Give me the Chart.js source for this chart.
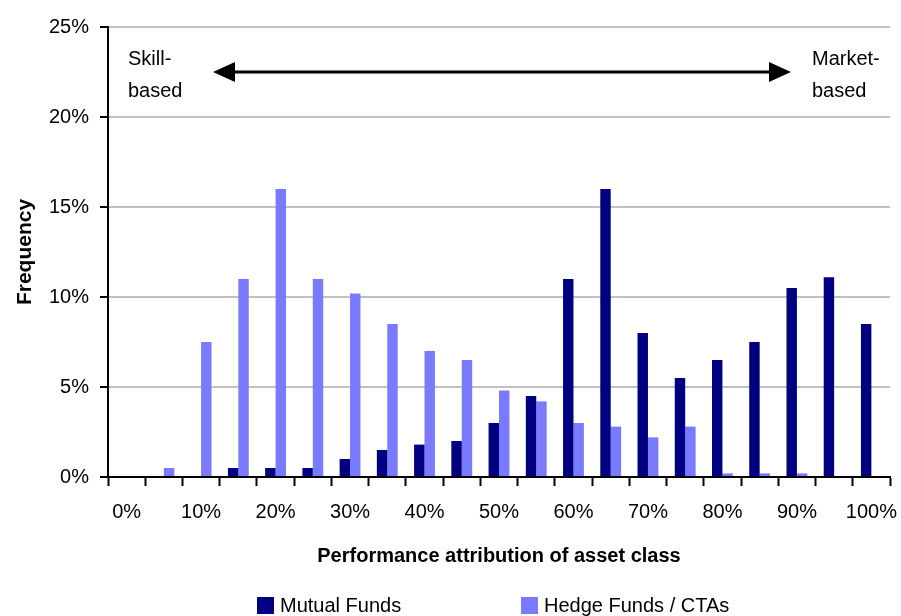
<!DOCTYPE html>
<html>
<head>
<meta charset="utf-8">
<script src="https://cdn.jsdelivr.net/npm/chart.js@4.4.0/dist/chart.umd.min.js"></script>
<style>
html, body { margin: 0; padding: 0; background: #fff; }
#wrap { width: 901px; height: 616px; }
</style>
</head>
<body>
<div id="wrap"><canvas id="bar-chartcanvas" width="901" height="616"></canvas></div>
<script>
// categories (5% buckets), only every other one is labelled
var categories = ["0%", "5%", "10%", "15%", "20%", "25%", "30%", "35%", "40%", "45%", "50%",
                  "55%", "60%", "65%", "70%", "75%", "80%", "85%", "90%", "95%", "100%"];

// frequency in %
var mutualFunds = [0, 0, 0, 0.5, 0.5, 0.5, 1.0, 1.5, 1.8, 2.0, 3.0,
                   4.5, 11.0, 16.0, 8.0, 5.5, 6.5, 7.5, 10.5, 11.1, 8.5];
var hedgeFunds  = [0, 0.5, 7.5, 11.0, 16.0, 11.0, 10.2, 8.5, 7.0, 6.5, 4.8,
                   4.2, 3.0, 2.8, 2.2, 2.8, 0.2, 0.2, 0.2, 0, 0];

var seriesNames = ["Mutual Funds", "Hedge Funds / CTAs"];
var yTicks = [0, 5, 10, 15, 20, 25];

var FONT = "'Liberation Sans', Arial, sans-serif";
Chart.defaults.font.family = FONT;
Chart.defaults.font.size = 20;
Chart.defaults.color = "#000";

//arrow, side notes and legend drawn on top
var extras = {
    id: "extras",
    afterDraw: function(chart) {
        var c = chart.ctx;
        var area = chart.chartArea;
        var y = chart.scales.y.getPixelForValue(22.5);
        var x1 = area.left + 105, x2 = area.right - 99;

        c.save();
        c.strokeStyle = "#000";
        c.fillStyle = "#000";
        c.lineWidth = 3;
        c.beginPath();
        c.moveTo(x1 + 15, y);
        c.lineTo(x2 - 15, y);
        c.stroke();
        // heads
        c.beginPath();
        c.moveTo(x1, y);
        c.lineTo(x1 + 22, y - 10);
        c.lineTo(x1 + 22, y + 10);
        c.closePath();
        c.fill();
        c.beginPath();
        c.moveTo(x2, y);
        c.lineTo(x2 - 22, y - 10);
        c.lineTo(x2 - 22, y + 10);
        c.closePath();
        c.fill();

        c.font = "20px " + FONT;
        c.textBaseline = "alphabetic";
        c.textAlign = "left";
        c.fillText("Skill-", area.left + 20, y - 7);
        c.fillText("based", area.left + 20, y + 25);
        c.fillText("Market-", area.right - 78, y - 7);
        c.fillText("based", area.right - 78, y + 25);

        // legend
        var lx = [257, 521];
        var ly = 597;
        c.textBaseline = "middle";
        chart.data.datasets.forEach(function(ds, i) {
            c.fillStyle = ds.backgroundColor;
            c.fillRect(lx[i], ly, 17, 17);
            c.fillStyle = "#000";
            c.fillText(ds.label, lx[i] + 23, ly + 9);
        });
        c.restore();
    }
};

var ctx = document.getElementById("bar-chartcanvas");

var data = {
    labels: categories,
    datasets: [
        {
            label: seriesNames[0],
            data: mutualFunds,
            backgroundColor: "#000080",
            categoryPercentage: 0.56,
            barPercentage: 1.0
        },
        {
            label: seriesNames[1],
            data: hedgeFunds,
            backgroundColor: "#7a7aff",
            categoryPercentage: 0.56,
            barPercentage: 1.0
        }
    ]
};

var options = {
    responsive: false,
    animation: false,
    devicePixelRatio: 1,
    layout: { padding: { top: 27, right: 11, left: 0, bottom: 30 } },
    plugins: {
        legend: { display: false },
        tooltip: { enabled: false }
    },
    scales: {
        x: {
            offset: true,
            grid: {
                offset: true,
                drawOnChartArea: false,
                tickColor: "#000",
                tickLength: 9,
                tickWidth: 2
            },
            border: { color: "#000", width: 2 },
            ticks: {
                autoSkip: false,
                maxRotation: 0,
                padding: 14,
                callback: function(v, i) {
                    return i % 2 === 0 ? categories[i] : "";
                }
            },
            title: {
                display: true,
                text: "Performance attribution of asset class",
                font: { size: 20, weight: "bold" },
                padding: { top: 0, bottom: 18 }
            },
            afterFit: function(scale) {
                scale.height = 109;
                scale.paddingLeft = 0;
                scale.paddingRight = 0;
            }
        },
        y: {
            min: yTicks[0],
            max: yTicks[yTicks.length - 1],
            afterBuildTicks: function(scale) {
                scale.ticks = yTicks.map(function(v) { return { value: v }; });
            },
            grid: {
                color: "#c0c0c0",
                lineWidth: 2,
                tickColor: "#000",
                tickLength: 8,
                tickWidth: 2
            },
            border: { color: "#000", width: 2 },
            ticks: {
                padding: 11,
                callback: function(v) { return v + "%"; }
            },
            title: {
                display: true,
                text: "Frequency",
                font: { size: 21, weight: "bold" },
                padding: { top: 13, bottom: 0 }
            },
            afterFit: function(scale) { scale.width = 108; }
        }
    }
};

var chart = new Chart(ctx, {
    type: "bar",
    data: data,
    options: options,
    plugins: [extras]
});
</script>
</body>
</html>
